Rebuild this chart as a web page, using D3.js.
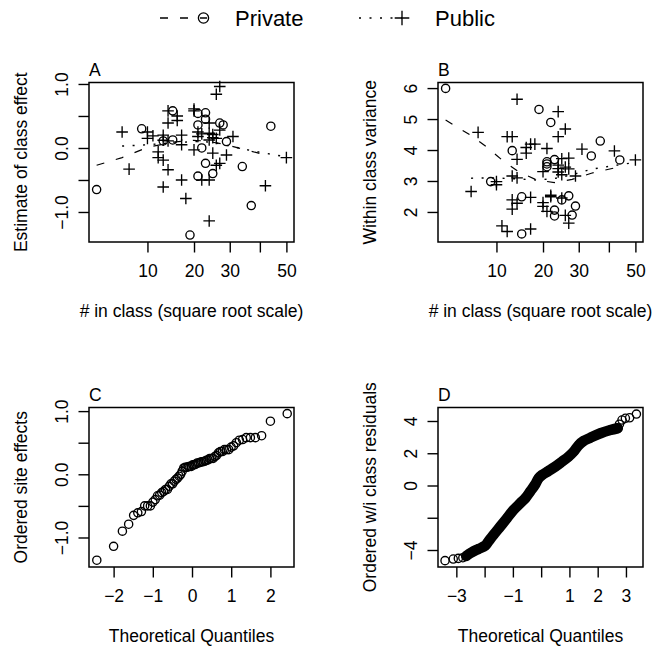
<!DOCTYPE html>
<html><head><meta charset="utf-8">
<script src="https://cdn.jsdelivr.net/npm/d3@7"></script>
<style>
body{margin:0;background:#fff}
svg{display:block}
text{font-family:"Liberation Sans",Arial,Helvetica,sans-serif;fill:#000}
</style>
</head><body>
<svg id="c" width="656" height="648"></svg>
<script>
// ---------------- DATA ----------------
// 66 classes: school type, class size, estimated class effect, within-class variance
const classType = [
 "Private","Private","Private","Private","Private","Private","Private","Private","Private","Private",
 "Private","Private","Private","Private","Private","Private","Private","Private","Private","Private",
 "Public","Public","Public","Public","Public","Public","Public","Public","Public","Public",
 "Public","Public","Public","Public","Public","Public","Public","Public","Public","Public",
 "Public","Public","Public","Public","Public","Public","Public","Public","Public","Public",
 "Public","Public","Public","Public","Public","Public","Public","Public","Public","Public",
 "Public","Public","Public","Public","Public","Public"];
const classSize = [
 3, 9, 13, 15, 15, 19, 21, 21, 21, 22,
 23, 23, 23, 25, 27, 28, 29, 34, 37, 44,
 6, 7, 10, 10, 11, 12, 12, 13, 13, 13,
 13, 14, 14, 14, 14, 16, 16, 17, 17, 17,
 18, 20, 20, 20, 21, 21, 22, 22, 24, 24,
 24, 24, 24, 25, 25, 25, 26, 26, 26, 27,
 27, 27, 29, 31, 42, 50];
const classEffect = [
 -0.65, 0.30, 0.11, 0.58, 0.125, -1.36, 0.54, 0.36, -0.44, 0.00,
 0.55, 0.45, -0.24, -0.40, 0.39, 0.36, 0.10, -0.29, -0.90, 0.34,
 0.25, -0.33, 0.25, 0.15, 0.19, -0.06, -0.15, -0.61, -0.19, 0.20,
 0.12, 0.58, 0.39, 0.11, -0.34, 0.43, 0.50, 0.05, -0.50, 0.20,
 -0.79, 0.58, -0.03, 0.61, 0.25, 0.18, -0.50, 0.22, 0.39, 0.23,
 0.125, -0.50, -1.14, 0.16, 0.21, -0.08, 0.84, 0.15, -0.27, 0.96,
 -0.24, 0.28, -0.11, 0.18, -0.59, -0.15];
const classVariance = [
 5.99, 2.98, 3.98, 2.49, 1.29, 5.31, 3.62, 3.46, 3.55, 4.89,
 3.69, 2.06, 1.87, 2.39, 2.52, 1.90, 2.19, 3.81, 4.29, 3.68,
 2.66, 4.57, 2.98, 2.88, 1.55, 4.43, 1.37, 3.16, 4.43, 2.39,
 2.09, 5.64, 3.70, 2.28, 3.10, 4.08, 3.90, 2.47, 1.45, 4.19,
 4.19, 2.18, 3.30, 2.30, 4.05, 2.02, 2.54, 2.49, 5.24, 4.43,
 3.51, 3.29, 3.40, 2.45, 3.72, 3.20, 4.68, 3.45, 1.89, 3.39,
 1.64, 3.74, 3.16, 4.03, 3.97, 3.68];

// smooth (lowess) curves
const lowessA_privN = [3, 6, 10, 15, 19, 23, 29, 36, 44];
const lowessA_privV = [-0.27, -0.15, 0.01, 0.09, 0.12, 0.11, 0.05, -0.04, -0.13];
const lowessA_pubN  = [6, 10, 13, 17, 21, 25, 30, 38, 50];
const lowessA_pubV  = [0.03, 0.05, 0.07, 0.09, 0.10, 0.09, 0.03, -0.05, -0.14];
const lowessB_privN = [3, 5.9, 8.4, 11, 14.3, 18.5, 23, 28, 34, 44];
const lowessB_privV = [4.97, 4.48, 4.09, 3.68, 3.30, 3.03, 2.95, 3.05, 3.25, 3.46];
const lowessB_pubN  = [6, 9, 14, 18.5, 23, 28, 34, 42, 50];
const lowessB_pubV  = [3.09, 3.10, 3.07, 3.03, 3.08, 3.20, 3.38, 3.50, 3.60];

// panel D: ordered within-class residuals vs theoretical quantiles (traced)
const residQ = [-3.40,-3.11,-2.93,-2.77,-2.65,-2.45,-2.22,-1.98,-1.87,-1.69,-1.45,-1.21,-0.98,-0.74,-0.56,-0.39,-0.21,-0.09,0.03,0.26,0.50,0.74,0.97,1.15,1.33,1.50,1.74,2.10,2.45,2.71,2.77,2.86,2.98,3.13,3.37];
const residR = [-4.66,-4.56,-4.52,-4.48,-4.37,-4.14,-3.94,-3.73,-3.48,-3.07,-2.55,-2.03,-1.52,-1.10,-0.79,-0.38,0.07,0.45,0.65,0.90,1.17,1.48,1.79,2.10,2.51,2.76,2.96,3.24,3.44,3.55,3.80,4.06,4.17,4.20,4.43];
const residSingleLow = 5;   // isolated circles at lower end
const residSingleHigh = 6;  // isolated circles at upper end

// ticks
const sizeTicks = [10, 20, 30, 40, 50];
const sizeTickLabels = ["10", "20", "30", "", "50"];
const effTicks = [-1, -0.5, 0, 0.5, 1];
const effTickLabels = ["\u22121.0", "", "0.0", "", "1.0"];
const varTicks = [2, 3, 4, 5, 6];
const varTickLabels = ["2", "3", "4", "5", "6"];
const qTicksC = [-2, -1, 0, 1, 2];
const qTickLabelsC = ["\u22122", "\u22121", "0", "1", "2"];
const qTicksD = [-3, -2, -1, 0, 1, 2, 3];
const qTickLabelsD = ["\u22123", "", "\u22121", "", "1", "2", "3"];
const resTicks = [-4, -2, 0, 2, 4];
const resTickLabels = ["\u22124", "", "0", "2", "4"];
const legendLabels = ["Private", "Public"];

// ---------------- helpers ----------------
function qnorm(p){
  const a=[-3.969683028665376e+01,2.209460984245205e+02,-2.759285104469687e+02,1.383577518672690e+02,-3.066479806614716e+01,2.506628277459239e+00];
  const b=[-5.447609879822406e+01,1.615858368580409e+02,-1.556989798598866e+02,6.680131188771972e+01,-1.328068155288572e+01];
  const c=[-7.784894002430293e-03,-3.223964580411365e-01,-2.400758277161838e+00,-2.549732539343734e+00,4.374664141464968e+00,2.938163982698783e+00];
  const d=[7.784695709041462e-03,3.224671290700398e-01,2.445134137142996e+00,3.754408661907416e+00];
  const pl=0.02425, ph=1-pl; let q,r;
  if(p<pl){q=Math.sqrt(-2*Math.log(p));return (((((c[0]*q+c[1])*q+c[2])*q+c[3])*q+c[4])*q+c[5])/((((d[0]*q+d[1])*q+d[2])*q+d[3])*q+1);}
  if(p<=ph){q=p-0.5;r=q*q;return (((((a[0]*r+a[1])*r+a[2])*r+a[3])*r+a[4])*r+a[5])*q/(((((b[0]*r+b[1])*r+b[2])*r+b[3])*r+b[4])*r+1);}
  q=Math.sqrt(-2*Math.log(1-p));return -(((((c[0]*q+c[1])*q+c[2])*q+c[3])*q+c[4])*q+c[5])/((((d[0]*q+d[1])*q+d[2])*q+d[3])*q+1);
}

const svg = d3.select("#c");
const FS = 17.5, R = 4.1, SW = 1.35, PLUS = 5.8;
const DASH = "8,12", DOT = "2,8.5";

function drawCircle(g, x, y, r){ g.append("circle").attr("cx",x).attr("cy",y).attr("r",r).attr("fill","none").attr("stroke","#000").attr("stroke-width",SW); }
function drawPlus(g, x, y, h){ g.append("path").attr("d",`M${x-h},${y}H${x+h}M${x},${y-h}V${y+h}`).attr("stroke","#000").attr("stroke-width",SW).attr("fill","none"); }

function frame(cfg){
  const g = svg.append("g");
  const [L,Rr] = cfg.x.range(); const [B,T] = cfg.y.range();
  // x axis
  const gx = g.append("g").attr("transform",`translate(0,${B})`)
    .call(d3.axisBottom(cfg.x).tickValues(cfg.xt).tickFormat((d,i)=>cfg.xl[i]).tickSizeInner(10.5).tickSizeOuter(0));
  gx.select(".domain").remove();
  gx.selectAll("line").attr("stroke","#000").attr("stroke-width",1.4);
  gx.selectAll("text").attr("y",35).attr("dy",null).attr("font-size",FS);
  // y axis
  const gy = g.append("g").attr("transform",`translate(${L},0)`)
    .call(d3.axisLeft(cfg.y).tickValues(cfg.yt).tickFormat((d,i)=>cfg.yl[i]).tickSizeInner(10.5).tickSizeOuter(0));
  gy.select(".domain").remove();
  gy.selectAll("line").attr("stroke","#000").attr("stroke-width",1.4);
  gy.selectAll("text").attr("x",null).attr("y",null).attr("dy",null).attr("font-size",FS)
    .attr("text-anchor","middle").attr("transform","translate(-21,0) rotate(-90)");
  // box
  g.append("rect").attr("x",L).attr("y",T).attr("width",Rr-L).attr("height",B-T)
    .attr("fill","none").attr("stroke","#000").attr("stroke-width",1.5);
  // titles
  g.append("text").attr("x",(L+Rr)/2).attr("y",B+75).attr("text-anchor","middle").attr("font-size",FS).text(cfg.xtitle);
  g.append("text").attr("transform",`translate(${L-62},${(T+B)/2}) rotate(-90)`).attr("text-anchor","middle").attr("font-size",FS).text(cfg.ytitle);
  g.append("text").attr("x",L).attr("y",T-7).attr("font-size",FS).text(cfg.letter);
  return g;
}

// ---------------- scales ----------------
const sizeDom = [2.304, 53.07];
const xA = d3.scaleSqrt().domain(sizeDom).range([89, 294]);
const yA = d3.scaleLinear().domain([-1.469, 1.023]).range([242, 82.5]);
const xB = d3.scaleSqrt().domain(sizeDom).range([438, 643]);
const yB = d3.scaleLinear().domain([1.03, 6.18]).range([242, 82.5]);
const xC = d3.scaleLinear().domain([-2.628, 2.602]).range([89, 294]);
const yC = d3.scaleLinear().domain([-1.467, 1.057]).range([567, 407.5]);
const xD = d3.scaleLinear().domain([-3.649, 3.603]).range([438, 643]);
const yD = d3.scaleLinear().domain([-5.054, 4.837]).range([567, 407.5]);

// ---------------- Panel A ----------------
const gA = frame({x:xA,y:yA,xt:sizeTicks,xl:sizeTickLabels,yt:effTicks,yl:effTickLabels,
  xtitle:"# in class (square root scale)",ytitle:"Estimate of class effect",letter:"A"});
const lineA = d3.line().x(d=>xA(d[0])).y(d=>yA(d[1]));
gA.append("path").attr("d",lineA(d3.zip(lowessA_privN,lowessA_privV))).attr("fill","none").attr("stroke","#000").attr("stroke-width",1.2).attr("stroke-dasharray",DASH);
gA.append("path").attr("d",lineA(d3.zip(lowessA_pubN,lowessA_pubV))).attr("fill","none").attr("stroke","#000").attr("stroke-width",1.4).attr("stroke-dasharray",DOT);
classSize.forEach((n,i)=>{
  if(classType[i]==="Private") drawCircle(gA, xA(n), yA(classEffect[i]), R);
  else drawPlus(gA, xA(n), yA(classEffect[i]), PLUS);
});

// ---------------- Panel B ----------------
const gB = frame({x:xB,y:yB,xt:sizeTicks,xl:sizeTickLabels,yt:varTicks,yl:varTickLabels,
  xtitle:"# in class (square root scale)",ytitle:"Within class variance",letter:"B"});
const lineB = d3.line().x(d=>xB(d[0])).y(d=>yB(d[1]));
gB.append("path").attr("d",lineB(d3.zip(lowessB_privN,lowessB_privV))).attr("fill","none").attr("stroke","#000").attr("stroke-width",1.2).attr("stroke-dasharray",DASH);
gB.append("path").attr("d",lineB(d3.zip(lowessB_pubN,lowessB_pubV))).attr("fill","none").attr("stroke","#000").attr("stroke-width",1.4).attr("stroke-dasharray",DOT);
classSize.forEach((n,i)=>{
  if(classType[i]==="Private") drawCircle(gB, xB(n), yB(classVariance[i]), R);
  else drawPlus(gB, xB(n), yB(classVariance[i]), PLUS);
});

// ---------------- Panel C (normal QQ of class effects) ----------------
const gC = frame({x:xC,y:yC,xt:qTicksC,xl:qTickLabelsC,yt:effTicks,yl:effTickLabels,
  xtitle:"Theoretical Quantiles",ytitle:"Ordered site effects",letter:"C"});
const sortedEff = classEffect.slice().sort(d3.ascending);
const nC = sortedEff.length;
sortedEff.forEach((v,i)=>{
  const p = nC > 10 ? (i+1-0.5)/nC : (i+1-3/8)/(nC+1-2*3/8);
  drawCircle(gC, xC(qnorm(p)), yC(v), R);
});

// ---------------- Panel D (normal QQ of residuals) ----------------
const gD = frame({x:xD,y:yD,xt:qTicksD,xl:qTickLabelsD,yt:resTicks,yl:resTickLabels,
  xtitle:"Theoretical Quantiles",ytitle:"Ordered w/i class residuals",letter:"D"});
const bandPts = d3.zip(residQ,residR).slice(residSingleLow-1, residQ.length-residSingleHigh+1);
gD.append("path").attr("d",d3.line().x(d=>xD(d[0])).y(d=>yD(d[1])).curve(d3.curveCatmullRom)(bandPts))
  .attr("fill","none").attr("stroke","#000").attr("stroke-width",10.5).attr("stroke-linecap","round").attr("stroke-linejoin","round");
residQ.forEach((q,i)=>drawCircle(gD, xD(q), yD(residR[i]), R));

// ---------------- Legend ----------------
const gL = svg.append("g");
const LY = 18;
gL.append("line").attr("x1",160).attr("x2",207).attr("y1",LY).attr("y2",LY).attr("stroke","#000").attr("stroke-width",1.3).attr("stroke-dasharray",DASH);
drawCircle(gL, 203.5, LY, 5.1);
gL.append("text").attr("x",235).attr("y",LY+8).attr("font-size",22).text(legendLabels[0]);
gL.append("line").attr("x1",359).attr("x2",402).attr("y1",LY).attr("y2",LY).attr("stroke","#000").attr("stroke-width",1.4).attr("stroke-dasharray",DOT);
drawPlus(gL, 402, LY, 7.3);
gL.append("text").attr("x",435).attr("y",LY+8).attr("font-size",22).text(legendLabels[1]);
</script>
</body></html>
